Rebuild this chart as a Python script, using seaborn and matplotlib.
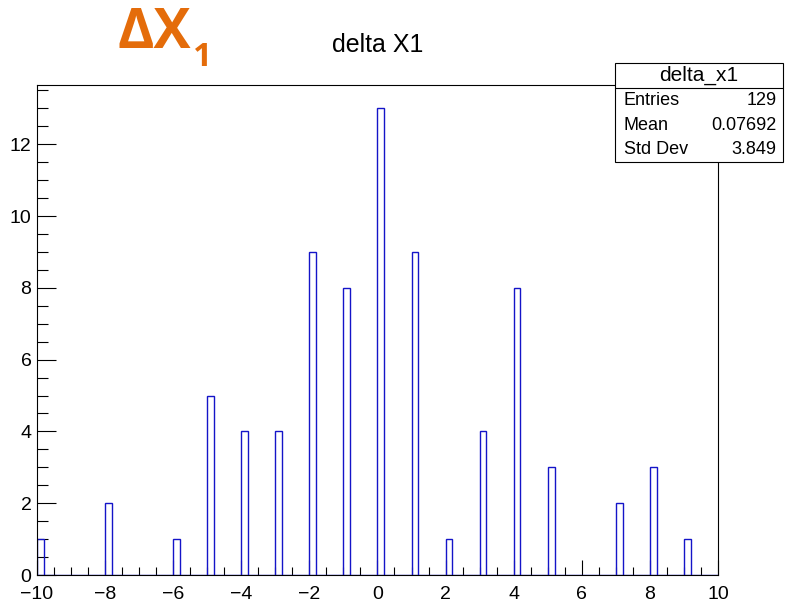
import numpy as np
import seaborn as sns
import matplotlib.pyplot as plt
from matplotlib.patches import Rectangle
from matplotlib.ticker import MultipleLocator

# valores enteros de delta_x1 y cuantas veces aparecen
valores = [-10, -8, -6, -5, -4, -3, -2, -1, 0, 1, 2, 3, 4, 5, 7, 8, 9]
cuentas = [1, 2, 1, 5, 4, 4, 9, 8, 13, 9, 1, 4, 8, 3, 2, 3, 1]

stats_etiquetas = ['Entries', 'Mean', 'Std Dev']
stats_valores = ['129', '0.07692', '3.849']

sns.set_style("ticks")
plt.rcParams['font.family'] = ['Liberation Sans', 'DejaVu Sans']
plt.rcParams['text.color'] = 'black'
plt.rcParams['xtick.color'] = 'black'
plt.rcParams['ytick.color'] = 'black'

fig = plt.figure(figsize=(7.85, 6.14), dpi=100)
ax = fig.add_axes([0.0471, 0.0635, 0.8675, 0.798])

# bins de 0.2 entre -10 y 10, centro del bin = valor + 0.1
sns.histplot(x=np.array(valores) + 0.1, weights=cuentas, bins=100, binrange=(-10, 10),
             element="bars", fill=False, color='#1414c8', linewidth=1.0, ax=ax)

ax.set_xlim(-10, 10)
ax.set_ylim(0, 13.65)
ax.set_xlabel('')
ax.set_ylabel('')
ax.xaxis.set_major_locator(MultipleLocator(2))
ax.xaxis.set_minor_locator(MultipleLocator(0.5))
ax.yaxis.set_major_locator(MultipleLocator(2))
ax.yaxis.set_minor_locator(MultipleLocator(0.5))
ax.tick_params(axis='x', which='major', direction='in', length=11, width=0.8, labelsize=14, pad=8)
ax.tick_params(axis='x', which='minor', direction='in', length=6, width=0.8)
ax.tick_params(axis='y', which='major', direction='in', length=14, width=0.8, labelsize=14, pad=4)
ax.tick_params(axis='y', which='minor', direction='in', length=8, width=0.8)
for s in ax.spines.values():
    s.set_visible(True)
    s.set_linewidth(0.8)
    s.set_color('black')

# titulos
fig.text(0.4815, 0.927, 'delta X1', ha='center', va='center', fontsize=18)
fig.text(0.150, 0.945, 'ΔX', ha='left', va='center', fontsize=40, fontweight='bold',
         color='#E46C0A', family=['Open Sans', 'DejaVu Sans'])
fig.text(0.246, 0.907, '1', ha='left', va='center', fontsize=24, fontweight='bold',
         color='#E46C0A', family=['Open Sans', 'DejaVu Sans'])

# caja de estadisticas estilo ROOT
x0, x1 = 615 / 785, 783 / 785
y_top, y_head, y_bot = 1 - 63 / 614, 1 - 88 / 614, 1 - 162 / 614
fig.patches.append(Rectangle((x0, y_bot), x1 - x0, y_top - y_bot, transform=fig.transFigure,
                             facecolor='white', edgecolor='black', linewidth=0.8, zorder=5))
fig.lines.append(plt.Line2D([x0, x1], [y_head, y_head], transform=fig.transFigure,
                            color='black', linewidth=0.8, zorder=6))
fig.text((x0 + x1) / 2, (y_top + y_head) / 2, 'delta_x1', ha='center', va='center',
         fontsize=15, zorder=7)
fila = (y_head - y_bot) / 3
for i, (et, val) in enumerate(zip(stats_etiquetas, stats_valores)):
    yy = y_head - fila * (i + 0.5)
    fig.text(x0 + 0.011, yy, et, ha='left', va='center', fontsize=13, zorder=7)
    fig.text(x1 - 0.008, yy, val, ha='right', va='center', fontsize=13, zorder=7)

plt.savefig('out.png', dpi=100)
